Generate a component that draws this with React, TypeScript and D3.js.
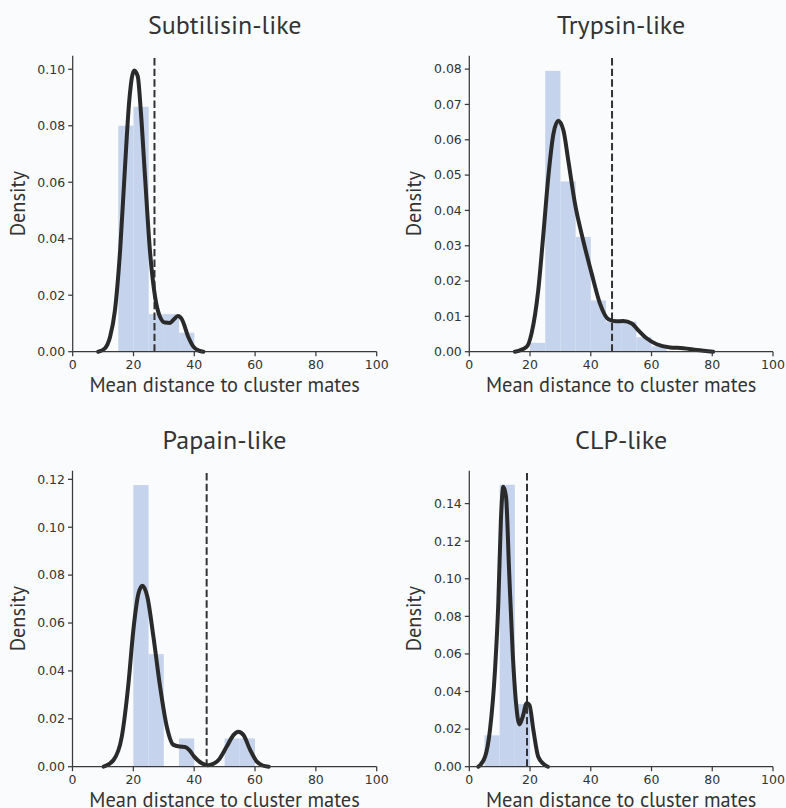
import React from "react";
import * as d3 from "d3";

// ---------- data ----------
const titles = ["Subtilisin-like", "Trypsin-like", "Papain-like", "CLP-like"];
const xLabel = "Mean distance to cluster mates";
const yLabel = "Density";
const xTicks = [0, 20, 40, 60, 80, 100];

const binWidth = 5;
const histStarts = [15, 20, 20, 5];
const subtilisinHist = [0.08, 0.0867, 0.0133, 0.0133, 0.0067];
const trypsinHist = [0.0025, 0.0795, 0.0482, 0.0325, 0.0145, 0.0085, 0.0085, 0.0041, 0.0015];
const papainHist = [0.1176, 0.047, 0, 0.0118, 0, 0, 0.0118, 0.0118];
const clpHist = [0.0167, 0.15, 0.0333];

const thresholds = [26.9, 47, 44.1, 19];

const yMaxValues = [0.1048, 0.0838, 0.1236, 0.1575];
const yTicks1 = [0, 0.02, 0.04, 0.06, 0.08, 0.1];
const yTicks2 = [0, 0.01, 0.02, 0.03, 0.04, 0.05, 0.06, 0.07, 0.08];
const yTicks3 = [0, 0.02, 0.04, 0.06, 0.08, 0.1, 0.12];
const yTicks4 = [0, 0.02, 0.04, 0.06, 0.08, 0.1, 0.12, 0.14];

const subtilisinKde: [number, number][] = [
  [8.4, 0], [10.6, 0.0012], [12.3, 0.0053], [13.9, 0.0147], [15.6, 0.0359], [17.2, 0.0653],
  [18.6, 0.0888], [20.2, 0.0996], [21.4, 0.0975], [22.4, 0.0853], [23.8, 0.0618], [25.4, 0.0359],
  [27.1, 0.0194], [28.7, 0.0124], [30.4, 0.0103], [32.0, 0.0102], [33.3, 0.0115], [34.6, 0.0126],
  [35.9, 0.0115], [38.0, 0.0053], [39.7, 0.0018], [41.5, 0.0004], [43, 0],
];
const trypsinKde: [number, number][] = [
  [15, 0], [18.9, 0.0014], [20.5, 0.0052], [22.7, 0.0174], [24.4, 0.0334], [26, 0.0494],
  [27.7, 0.0617], [29.3, 0.0654], [31, 0.0626], [32.6, 0.0541], [34.8, 0.0419], [37.5, 0.0315],
  [40.3, 0.0221], [43, 0.0137], [45.8, 0.0092], [48.5, 0.0086], [50.7, 0.0087], [53.5, 0.008],
  [55.6, 0.0061], [58.4, 0.0038], [61.7, 0.0021], [66.1, 0.0012], [70.5, 0.001], [74.9, 0.0005],
  [80.3, 0],
];
const papainKde: [number, number][] = [
  [10.2, 0], [13.5, 0.0028], [16.2, 0.0125], [18.4, 0.0348], [20, 0.057], [21.7, 0.0724],
  [23, 0.0756], [24.6, 0.071], [26.6, 0.0543], [28.8, 0.0334], [31, 0.0167], [33.2, 0.0091],
  [35.4, 0.0084], [37, 0.0082], [38.5, 0.0068], [40, 0.0042], [42.5, 0.0014], [44.5, 0.0006],
  [46.5, 0.0013], [48, 0.0028], [50.7, 0.0084], [52.9, 0.0132], [54.5, 0.0146], [56.2, 0.0132],
  [58.4, 0.007], [60.6, 0.0021], [62.5, 0.0005], [64.5, 0],
];
const clpKde: [number, number][] = [
  [3, 0], [5.2, 0.0053], [6.8, 0.0195], [8.45, 0.051], [9.55, 0.0869], [10.4, 0.131],
  [11.2, 0.149], [12.1, 0.1436], [13.1, 0.1046], [14.3, 0.0603], [15.4, 0.0337], [16.5, 0.0225],
  [17.6, 0.0266], [18.9, 0.0337], [19.8, 0.0328], [21.1, 0.0195], [22.7, 0.0053], [24.9, 0.0009],
  [25.9, 0],
];

const hists = [subtilisinHist, trypsinHist, papainHist, clpHist];
const kdes = [subtilisinKde, trypsinKde, papainKde, clpKde];
const yTicksAll = [yTicks1, yTicks2, yTicks3, yTicks4];

// ---------- layout ----------
const W = 786;
const H = 808;
const panelBoxes = [
  { left: 72.7, right: 376.7, top: 55.7, bottom: 351.7 },
  { left: 469.3, right: 773, top: 55.7, bottom: 351.7 },
  { left: 72.5, right: 376.7, top: 470.7, bottom: 766.7 },
  { left: 469.3, right: 773, top: 470.7, bottom: 766.7 },
];

const BG = "#f9fbfd";
const BAR = "#c5d3ec";
const INK = "#2a2a2a";
const AXIS = "#3a3a3a";
const LABEL_FONT = "'PT Sans', Lato, 'Noto Sans', sans-serif";
const TICK_FONT = "'DejaVu Sans', sans-serif";

function Panel({ i }: { i: number }) {
  const b = panelBoxes[i];
  const x = d3.scaleLinear().domain([0, 100]).range([b.left, b.right]);
  const y = d3.scaleLinear().domain([0, yMaxValues[i]]).range([b.bottom, b.top]);
  const hist = hists[i];
  const start = histStarts[i];
  const line = d3
    .line<[number, number]>()
    .x((d) => x(d[0]))
    .y((d) => y(d[1]))
    .curve(d3.curveMonotoneX);
  const fmt = d3.format(".2f");
  const tickLen = 4.5;
  const cx = (b.left + b.right) / 2;
  const cy = (b.top + b.bottom) / 2;
  return (
    <g>
      {hist.map((v, k) =>
        v > 0 ? (
          <rect
            key={k}
            x={x(start + k * binWidth)}
            width={x(start + (k + 1) * binWidth) - x(start + k * binWidth)}
            y={y(v)}
            height={y(0) - y(v)}
            fill={BAR}
          />
        ) : null
      )}
      <line
        x1={x(thresholds[i])}
        x2={x(thresholds[i])}
        y1={b.bottom}
        y2={b.top}
        stroke="#333"
        strokeWidth={2}
        strokeDasharray="7.4,3.2"
      />
      <path
        d={line(kdes[i]) || ""}
        fill="none"
        stroke={INK}
        strokeWidth={4}
        strokeLinejoin="round"
        strokeLinecap="round"
      />
      {/* spines */}
      <line x1={b.left} x2={b.left} y1={b.top} y2={b.bottom} stroke={AXIS} strokeWidth={1.25} />
      <line x1={b.left} x2={b.right} y1={b.bottom} y2={b.bottom} stroke={AXIS} strokeWidth={1.25} />
      {xTicks.map((t) => (
        <g key={"x" + t}>
          <line x1={x(t)} x2={x(t)} y1={b.bottom} y2={b.bottom + tickLen} stroke={AXIS} strokeWidth={1.25} />
          <text
            x={x(t)}
            y={b.bottom + 17}
            textAnchor="middle"
            fontFamily={TICK_FONT}
            fontSize={12.5}
            fill="#333"
          >
            {t}
          </text>
        </g>
      ))}
      {yTicksAll[i].map((t) => (
        <g key={"y" + t}>
          <line x1={b.left - tickLen} x2={b.left} y1={y(t)} y2={y(t)} stroke={AXIS} strokeWidth={1.25} />
          <text
            x={b.left - 7.5}
            y={y(t)}
            dy="0.35em"
            textAnchor="end"
            fontFamily={TICK_FONT}
            fontSize={12.5}
            fill="#333"
          >
            {fmt(t)}
          </text>
        </g>
      ))}
      <text x={cx} y={b.top - 21.5} textAnchor="middle" fontFamily={LABEL_FONT} fontSize={26} fill="#333">
        {titles[i]}
      </text>
      <text x={cx} y={b.bottom + 40} textAnchor="middle" fontFamily={LABEL_FONT} fontSize={20.4} fill="#333">
        {xLabel}
      </text>
      <text
        transform={`translate(${b.left - 48},${cy}) rotate(-90)`}
        textAnchor="middle"
        fontFamily={LABEL_FONT}
        fontSize={20.4}
        fill="#333"
      >
        {yLabel}
      </text>
    </g>
  );
}

export default function App() {
  return (
    <svg
      width={W}
      height={H}
      style={{ position: "absolute", left: 0, top: 0, display: "block", background: BG }}
    >
      <rect x={0} y={0} width={W} height={H} fill={BG} />
      {titles.map((_, i) => (
        <Panel key={i} i={i} />
      ))}
    </svg>
  );
}
